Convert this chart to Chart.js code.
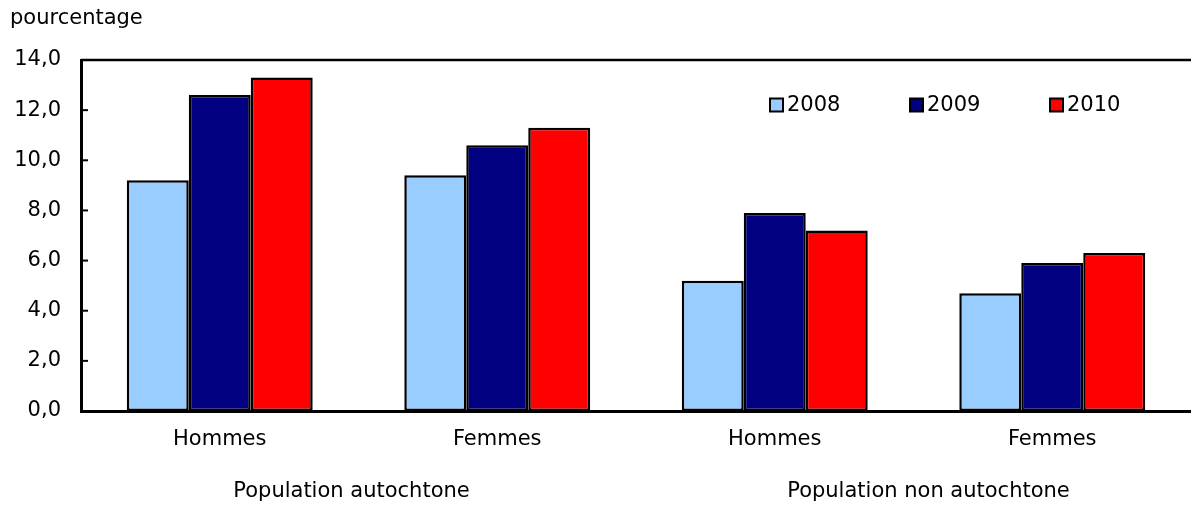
<!DOCTYPE html>
<html>
<head>
<meta charset="utf-8">
<script src="https://cdn.jsdelivr.net/npm/chart.js@4.4.1/dist/chart.umd.min.js"></script>
<style>
html,body{margin:0;padding:0;background:#fff;}
#wrap{width:1191px;height:506px;position:relative;}
</style>
</head>
<body>
<div id="wrap"><canvas id="c"></canvas></div>
<script>
const categories = ["Hommes", "Femmes", "Hommes", "Femmes"];
const groups = ["Population autochtone", "Population non autochtone"];
const seriesNames = ["2008", "2009", "2010"];
const values2008 = [9.2, 9.4, 5.2, 4.7];
const values2009 = [12.6, 10.6, 7.9, 5.9];
const values2010 = [13.3, 11.3, 7.2, 6.3];
const yTicks = [0, 2, 4, 6, 8, 10, 12, 14];
const yAxisTitle = "pourcentage";

const colors = ["#99CCFF", "#000080", "#FF0000"];
const FONT = "'DejaVu Sans', Verdana, sans-serif";
const FS = 21;

const decorPlugin = {
  id: 'decor',
  afterDraw(chart) {
    const ctx = chart.ctx;
    const a = chart.chartArea;
    const x = chart.scales.x, y = chart.scales.y;
    ctx.save();
    // top border
    ctx.strokeStyle = '#000';
    ctx.lineWidth = 2.5;
    ctx.beginPath();
    ctx.moveTo(a.left, a.top);
    ctx.lineTo(a.right, a.top);
    ctx.stroke();
    // inward tick marks
    ctx.lineWidth = 2;
    yTicks.forEach(v => {
      const py = y.getPixelForValue(v);
      ctx.beginPath();
      ctx.moveTo(a.left, py);
      ctx.lineTo(a.left + 7, py);
      ctx.stroke();
    });
    // axis title
    ctx.fillStyle = '#000';
    ctx.font = FS + "px " + FONT;
    ctx.textAlign = 'left';
    ctx.textBaseline = 'middle';
    ctx.fillText(yAxisTitle, 10, 19);
    // group labels
    ctx.textAlign = 'center';
    const groupShift = [-7, 15];
    groups.forEach((g, i) => {
      const cx = (x.getPixelForValue(2 * i) + x.getPixelForValue(2 * i + 1)) / 2 + groupShift[i];
      ctx.fillText(g, cx, 492);
    });
    // legend
    const legendX = [770, 910, 1050];
    ctx.textAlign = 'left';
    chart.data.datasets.forEach((ds, i) => {
      const lx = legendX[i], ly = 105;
      ctx.fillStyle = ds.backgroundColor;
      ctx.fillRect(lx, ly - 6.5, 13, 13);
      ctx.strokeStyle = '#000';
      ctx.lineWidth = 2;
      ctx.strokeRect(lx, ly - 6.5, 13, 13);
      ctx.fillStyle = '#000';
      ctx.fillText(ds.label, lx + 17, ly + 1);
    });
    ctx.restore();
  }
};

new Chart(document.getElementById('c'), {
  type: 'bar',
  data: {
    labels: categories,
    datasets: [
      { label: seriesNames[0], data: values2008, backgroundColor: colors[0] },
      { label: seriesNames[1], data: values2009, backgroundColor: colors[1] },
      { label: seriesNames[2], data: values2010, backgroundColor: colors[2] }
    ].map(d => Object.assign(d, { borderColor: '#000', borderWidth: 2.5, borderSkipped: false, categoryPercentage: 0.67, barPercentage: 1.0 }))
  },
  options: {
    responsive: true,
    maintainAspectRatio: false,
    animation: false,
    events: [],
    layout: { padding: { top: 60, right: 0, left: 0, bottom: 0 } },
    plugins: { legend: { display: false }, tooltip: { enabled: false } },
    scales: {
      x: {
        grid: { display: false, drawTicks: false },
        border: { display: true, color: '#000', width: 3 },
        ticks: { color: '#000', font: { family: FONT, size: FS }, padding: 16 },
        afterFit(s) { s.height = 95; }
      },
      y: {
        min: 0, max: 14,
        afterBuildTicks(s) { s.ticks = yTicks.map(v => ({ value: v })); },
        grid: { display: false, drawTicks: false },
        border: { display: true, color: '#000', width: 3 },
        ticks: {
          color: '#000', font: { family: FONT, size: FS }, padding: 20,
          callback: v => v.toFixed(1).replace('.', ',')
        },
        afterFit(s) { s.width = 81; }
      }
    }
  },
  plugins: [decorPlugin]
});
</script>
</body>
</html>
